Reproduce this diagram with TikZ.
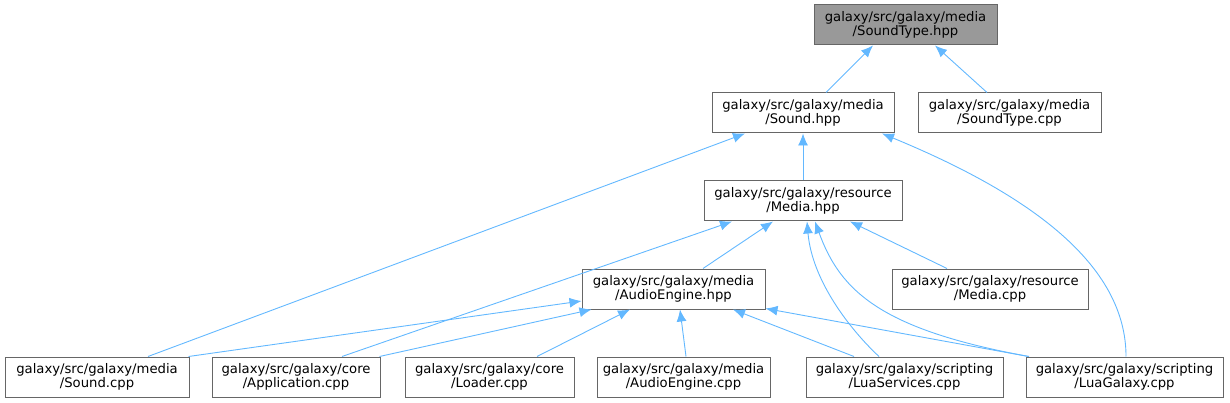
\documentclass[tikz,border=0pt]{standalone}
\usepackage{fontspec}
\setmainfont{DejaVu Sans}
\usetikzlibrary{arrows.meta}
\definecolor{edgec}{HTML}{63B8FF}
\definecolor{boxc}{HTML}{666666}
\definecolor{topfill}{HTML}{999999}
\begin{document}
\begin{tikzpicture}[x=1pt,y=-1pt,
  box/.style={draw=boxc, line width=1pt, fill=white, minimum height=40pt, inner sep=0pt, align=center, font=\fontsize{13.2}{14.4}\selectfont},
  edge/.style={draw=edgec, line width=0.9pt, {Latex[length=12pt,width=10pt]}-}]
\useasboundingbox (0,0) rectangle (1230,403);
% nodes
\node[box, fill=topfill, minimum width=183pt] (sth) at (905.5,25) {galaxy/src/galaxy/media\\/SoundType.hpp};
\node[box, minimum width=182pt] (sh) at (803,113) {galaxy/src/galaxy/media\\/Sound.hpp};
\node[box, minimum width=183pt] (stc) at (1009.5,113) {galaxy/src/galaxy/media\\/SoundType.cpp};
\node[box, minimum width=198pt] (mh) at (803,201) {galaxy/src/galaxy/resource\\/Media.hpp};
\node[box, minimum width=183pt] (ae) at (673.5,289) {galaxy/src/galaxy/media\\/AudioEngine.hpp};
\node[box, minimum width=196pt] (mc) at (990,289) {galaxy/src/galaxy/resource\\/Media.cpp};
\node[box, minimum width=184pt] (sc) at (97,377) {galaxy/src/galaxy/media\\/Sound.cpp};
\node[box, minimum width=168pt] (app) at (296,377) {galaxy/src/galaxy/core\\/Application.cpp};
\node[box, minimum width=169pt] (ld) at (489.5,377) {galaxy/src/galaxy/core\\/Loader.cpp};
\node[box, minimum width=173pt] (aec) at (683.5,377) {galaxy/src/galaxy/media\\/AudioEngine.cpp};
\node[box, minimum width=197pt] (ls) at (904.5,377) {galaxy/src/galaxy/scripting\\/LuaServices.cpp};
\node[box, minimum width=197pt] (lg) at (1124.5,377) {galaxy/src/galaxy/scripting\\/LuaGalaxy.cpp};
% edges
\draw[edge] ([xshift=-32.5pt]sth.south) -- ([xshift=23pt]sh.north);
\draw[edge] ([xshift=29.5pt]sth.south) -- ([xshift=-22.5pt]stc.north);
\draw[edge] (sh.south) -- (mh.north);
\draw[edge] ([xshift=-58pt]sh.south) -- ([xshift=51pt]sc.north);
\draw[edge] ([xshift=79pt]sh.south) .. controls +(148,61) and +(0,-92) .. ([xshift=1.5pt]lg.north);
\draw[edge] ([xshift=-30pt]mh.south) -- ([xshift=29.5pt]ae.north);
\draw[edge] ([xshift=-71pt]mh.south) -- ([xshift=46pt]app.north);
\draw[edge] ([xshift=4pt]mh.south) .. controls +(5,59) and +(-29,-27) .. ([xshift=-25.5pt]ls.north);
\draw[edge] ([xshift=12pt]mh.south) .. controls +(25,69) and +(-149,-27) .. ([xshift=-95.5pt]lg.north);
\draw[edge] ([xshift=47pt]mh.south) -- ([xshift=-43pt]mc.north);
\draw[edge] ([yshift=-12pt]ae.west) -- ([xshift=-1pt]sc.north east);
\draw[edge] ([xshift=10pt]ae.south west) -- ([xshift=-1pt]app.north east);
\draw[edge] ([xshift=-43.5pt]ae.south) -- ([xshift=47.5pt]ld.north);
\draw[edge] ([xshift=6.5pt]ae.south) -- ([xshift=2.5pt]aec.north);
\draw[edge] ([xshift=59.5pt]ae.south) -- ([xshift=-50.5pt]ls.north);
\draw[edge] ([yshift=1pt]ae.south east) -- ([xshift=3pt]lg.north west);
\end{tikzpicture}
\end{document}
